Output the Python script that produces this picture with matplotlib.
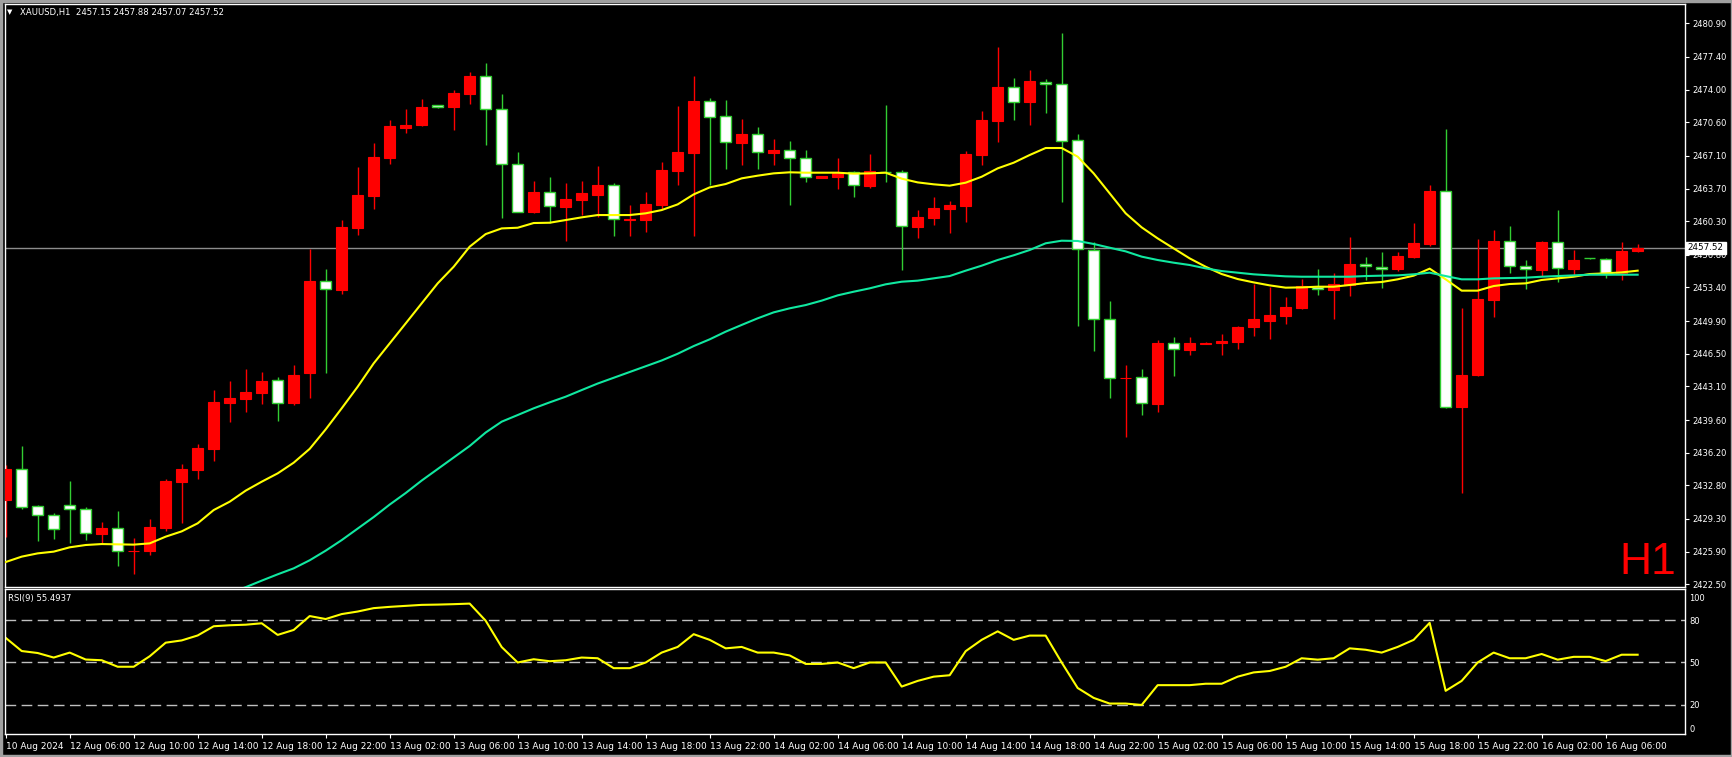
import numpy as np
import matplotlib
matplotlib.use("Agg")
import matplotlib.pyplot as plt
from matplotlib.patches import Rectangle

# XAUUSD H1 candles (bar 0 = leftmost)
opens = [2431.31, 2434.47, 2430.62, 2429.68, 2430.72, 2430.30, 2427.77, 2428.33, 2425.98, 2426.00,
         2428.39, 2433.18, 2434.43, 2436.62, 2441.41, 2441.82, 2442.45, 2443.73, 2441.41, 2444.46,
         2454.04, 2453.17, 2459.62, 2462.95, 2466.91, 2470.03, 2470.31, 2472.36, 2472.19, 2473.57,
         2475.41, 2471.94, 2466.22, 2461.25, 2463.30, 2461.81, 2462.54, 2463.06, 2464.03, 2460.45,
         2460.46, 2461.99, 2465.56, 2467.40, 2472.78, 2471.21, 2468.47, 2469.34, 2467.43, 2467.67,
         2466.84, 2464.83, 2464.93, 2465.39, 2464.00, 2465.45, 2465.38, 2459.73, 2460.66, 2461.60,
         2461.91, 2467.22, 2470.76, 2474.23, 2472.74, 2474.79, 2474.54, 2468.71, 2457.26, 2450.08,
         2443.94, 2444.04, 2441.30, 2447.58, 2446.92, 2447.55, 2447.61, 2447.76, 2449.28, 2449.91,
         2450.43, 2451.26, 2453.48, 2453.17, 2453.69, 2455.81, 2455.56, 2455.32, 2456.57, 2457.96,
         2463.41, 2440.99, 2444.28, 2452.13, 2458.20, 2455.60, 2455.25, 2458.10, 2455.32, 2456.45,
         2456.33, 2454.84, 2457.15]
highs = [2434.90, 2436.90, 2430.72, 2429.89, 2433.25, 2430.51, 2428.99, 2430.13, 2427.32, 2429.30,
         2433.46, 2435.02, 2437.10, 2442.73, 2443.66, 2444.91, 2444.60, 2444.08, 2445.29, 2457.40,
         2455.32, 2460.42, 2465.94, 2468.44, 2470.83, 2471.98, 2473.02, 2472.40, 2473.95, 2475.83,
         2476.80, 2473.54, 2467.50, 2464.48, 2464.90, 2464.27, 2464.48, 2466.05, 2464.28, 2461.99,
         2463.34, 2466.46, 2472.29, 2475.41, 2473.09, 2472.88, 2470.94, 2470.11, 2468.86, 2468.65,
         2467.71, 2465.05, 2466.88, 2465.50, 2467.29, 2472.39, 2465.62, 2461.43, 2462.81, 2462.40,
         2467.60, 2471.77, 2478.43, 2475.20, 2476.04, 2475.10, 2479.89, 2469.37, 2458.10, 2451.99,
         2445.32, 2444.91, 2447.93, 2448.24, 2448.24, 2447.72, 2448.55, 2449.39, 2453.76, 2453.48,
         2452.41, 2454.28, 2455.32, 2454.90, 2458.65, 2456.57, 2457.09, 2457.09, 2460.11, 2464.06,
         2469.89, 2451.26, 2458.44, 2459.38, 2459.80, 2456.26, 2458.20, 2461.46, 2457.30, 2456.50,
         2456.47, 2458.13, 2457.88]
lows = [2427.46, 2430.30, 2427.04, 2427.25, 2426.83, 2427.15, 2426.66, 2424.44, 2423.61, 2425.58,
        2428.08, 2428.91, 2433.50, 2435.37, 2439.43, 2440.47, 2441.30, 2439.53, 2441.20, 2441.93,
        2444.46, 2452.75, 2458.86, 2461.57, 2466.29, 2469.48, 2470.21, 2472.10, 2469.79, 2472.50,
        2468.23, 2460.66, 2461.29, 2461.15, 2460.14, 2458.24, 2460.94, 2460.70, 2458.79, 2458.79,
        2459.21, 2461.57, 2464.10, 2458.79, 2464.10, 2465.73, 2466.15, 2465.73, 2466.15, 2462.02,
        2464.41, 2464.78, 2463.69, 2462.85, 2463.79, 2464.41, 2455.25, 2458.58, 2459.93, 2459.10,
        2460.25, 2466.18, 2468.57, 2470.87, 2470.31, 2471.59, 2462.33, 2449.42, 2446.82, 2441.92,
        2437.86, 2440.15, 2440.47, 2444.21, 2446.40, 2447.51, 2446.40, 2447.02, 2448.34, 2448.03,
        2449.60, 2451.16, 2452.62, 2450.11, 2452.51, 2454.21, 2453.34, 2455.11, 2456.50, 2457.72,
        2440.89, 2432.03, 2444.20, 2450.36, 2454.94, 2453.27, 2454.63, 2454.00, 2454.70, 2456.40,
        2454.42, 2454.21, 2457.07]
closes = [2434.50, 2430.58, 2429.68, 2428.22, 2430.30, 2427.81, 2428.36, 2425.93, 2426.00, 2428.46,
          2433.25, 2434.50, 2436.69, 2441.48, 2441.89, 2442.52, 2443.66, 2441.41, 2444.29, 2454.07,
          2453.20, 2459.69, 2463.02, 2466.98, 2470.21, 2470.31, 2472.19, 2472.15, 2473.64, 2475.41,
          2471.94, 2466.22, 2461.29, 2463.34, 2461.84, 2462.61, 2463.23, 2464.03, 2460.49, 2460.50,
          2462.09, 2465.63, 2467.50, 2472.81, 2471.18, 2468.51, 2469.38, 2467.47, 2467.71, 2466.84,
          2464.90, 2465.00, 2465.28, 2464.03, 2465.52, 2465.40, 2459.76, 2460.73, 2461.67, 2461.95,
          2467.29, 2470.83, 2474.27, 2472.67, 2474.89, 2474.54, 2468.68, 2457.37, 2450.08, 2443.94,
          2444.01, 2441.33, 2447.61, 2446.96, 2447.58, 2447.60, 2447.82, 2449.28, 2450.11, 2450.53,
          2451.36, 2453.51, 2453.20, 2453.76, 2455.84, 2455.60, 2455.29, 2456.67, 2458.03, 2463.44,
          2440.99, 2444.28, 2452.19, 2458.24, 2455.60, 2455.29, 2458.13, 2455.39, 2456.26, 2456.43,
          2454.84, 2457.19, 2457.52]

# fast MA (yellow), read per bar
ma_fast = [2424.82, 2425.38, 2425.72, 2425.90, 2426.35, 2426.59, 2426.69, 2426.66, 2426.63, 2426.76,
           2427.46, 2428.01, 2428.85, 2430.23, 2431.10, 2432.25, 2433.18, 2434.05, 2435.16, 2436.60,
           2438.63, 2440.82, 2443.07, 2445.50, 2447.58, 2449.66, 2451.75, 2453.83, 2455.56, 2457.65,
           2458.96, 2459.55, 2459.62, 2460.11, 2460.14, 2460.42, 2460.70, 2460.94, 2460.94, 2460.94,
           2461.12, 2461.46, 2462.05, 2463.09, 2463.82, 2464.17, 2464.76, 2465.04, 2465.28, 2465.39,
           2465.35, 2465.35, 2465.35, 2465.25, 2465.28, 2465.35, 2464.73, 2464.34, 2464.14, 2464.00,
           2464.31, 2464.93, 2465.80, 2466.39, 2467.19, 2467.92, 2467.92, 2467.02, 2465.28, 2463.20,
           2461.12, 2459.66, 2458.51, 2457.47, 2456.43, 2455.56, 2454.80, 2454.28, 2453.93, 2453.62,
           2453.38, 2453.41, 2453.48, 2453.48, 2453.66, 2453.86, 2453.97, 2454.25, 2454.63, 2455.36,
           2454.25, 2453.07, 2453.07, 2453.55, 2453.76, 2453.83, 2454.18, 2454.35, 2454.52, 2454.80,
           2454.87, 2454.97, 2455.15]

# slow MA (green), starts at bar 14 (below the panel before that)
ma_slow_start = 14
ma_slow = [2421.60, 2422.20, 2422.88, 2423.54, 2424.16, 2425.00,
           2426.00, 2427.10, 2428.30, 2429.50, 2430.80, 2432.00, 2433.30, 2434.50, 2435.70, 2436.90,
           2438.30, 2439.43, 2440.12, 2440.82, 2441.44, 2442.03, 2442.72, 2443.40, 2444.00, 2444.60,
           2445.20, 2445.80, 2446.50, 2447.30, 2448.00, 2448.80, 2449.50, 2450.19, 2450.81, 2451.23,
           2451.57, 2452.03, 2452.58, 2452.96, 2453.31, 2453.73, 2454.00, 2454.11, 2454.35, 2454.59,
           2455.15, 2455.67, 2456.26, 2456.75, 2457.30, 2458.00, 2458.27, 2458.24, 2457.93, 2457.54,
           2457.16, 2456.61, 2456.26, 2455.98, 2455.74, 2455.39, 2455.11, 2454.94, 2454.77, 2454.66,
           2454.56, 2454.52, 2454.52, 2454.52, 2454.52, 2454.59, 2454.63, 2454.66, 2454.77, 2454.94,
           2454.59, 2454.25, 2454.25, 2454.35, 2454.38, 2454.42, 2454.52, 2454.59, 2454.66, 2454.73,
           2454.73, 2454.73, 2454.73]

rsi = [67.4, 58.1, 56.7, 53.5, 57.0, 52.1, 51.6, 47.0, 47.0, 54.4,
       64.0, 65.6, 69.1, 75.6, 76.3, 76.7, 77.7, 69.5, 73.0, 82.8,
       80.7, 84.2, 86.0, 88.4, 89.3, 90.0, 90.7, 90.9, 91.2, 91.6,
       79.5, 60.9, 50.0, 52.3, 50.9, 51.6, 53.5, 53.0, 46.0, 46.0,
       50.0, 57.0, 61.0, 70.0, 66.0, 60.0, 61.0, 57.0, 57.0, 55.0,
       49.0, 49.0, 50.0, 46.0, 50.0, 50.0, 33.0, 37.0, 40.0, 41.0,
       58.0, 66.0, 72.0, 66.0, 69.0, 69.0, 50.0, 32.0, 25.0, 21.0,
       21.0, 20.0, 34.0, 34.0, 34.0, 35.0, 35.0, 40.0, 43.0, 44.0,
       47.0, 53.0, 52.0, 53.0, 60.0, 59.0, 57.0, 61.0, 66.0, 78.0,
       30.0, 37.0, 50.0, 57.0, 53.0, 53.0, 56.0, 52.0, 54.0, 54.0,
       51.0, 55.5, 55.49]
rsi_levels = [80, 50, 20]

price_ticks = [2480.90, 2477.40, 2474.00, 2470.60, 2467.10, 2463.70, 2460.30, 2456.80, 2453.40,
               2449.90, 2446.50, 2443.10, 2439.60, 2436.20, 2432.80, 2429.30, 2425.90, 2422.50]
time_tick_pos = list(range(0, 101, 4))
time_tick_labels = ["10 Aug 2024", "12 Aug 06:00", "12 Aug 10:00", "12 Aug 14:00", "12 Aug 18:00",
                    "12 Aug 22:00", "13 Aug 02:00", "13 Aug 06:00", "13 Aug 10:00", "13 Aug 14:00",
                    "13 Aug 18:00", "13 Aug 22:00", "14 Aug 02:00", "14 Aug 06:00", "14 Aug 10:00",
                    "14 Aug 14:00", "14 Aug 18:00", "14 Aug 22:00", "15 Aug 02:00", "15 Aug 06:00",
                    "15 Aug 10:00", "15 Aug 14:00", "15 Aug 18:00", "15 Aug 22:00", "16 Aug 02:00",
                    "16 Aug 06:00"]
last_price = 2457.52
header = "XAUUSD,H1  2457.15 2457.88 2457.07 2457.52"
rsi_title = "RSI(9) 55.4937"

W, H = 1733, 757
fig = plt.figure(figsize=(W / 100, H / 100), dpi=100, facecolor="black")

def fx(px):
    return px / W

def fy(py):
    return 1 - py / H

ax = fig.add_axes([fx(4.5), fy(586.7), fx(1685) - fx(4.5), fy(4.3) - fy(586.7)])
ax2 = fig.add_axes([fx(4.5), fy(734), fx(1685) - fx(4.5), fy(589.3) - fy(734)])

for a in (ax, ax2):
    a.set_facecolor("black")
    for s in a.spines.values():
        s.set_color("white")
        s.set_linewidth(1)
    a.set_xlim(-0.075, 104.96)

o = np.array(opens)
h = np.array(highs)
l = np.array(lows)
c = np.array(closes)
x = np.arange(len(o))
up = c >= o
dn = ~up

bull = "#ff0000"
bear_edge = "#32cd32"

ax.axhline(last_price, color="#8c8c8c", lw=1, zorder=1)
ax.vlines(x[up], l[up], h[up], color=bull, lw=1, zorder=2)
ax.vlines(x[dn], l[dn], h[dn], color=bear_edge, lw=1, zorder=2)
ax.bar(x[up], c[up] - o[up], bottom=o[up], width=0.68, color=bull, edgecolor=bull, lw=0.8, zorder=3)
ax.bar(x[dn], o[dn] - c[dn], bottom=c[dn], width=0.68, facecolor="white", edgecolor=bear_edge,
       lw=1, zorder=3)

ax.plot(x, ma_fast, color="#ffff00", lw=1.5, zorder=4)
xs = np.arange(ma_slow_start, ma_slow_start + len(ma_slow))
ax.plot(xs, ma_slow, color="#10e8a0", lw=1.5, zorder=4)

ax.set_ylim(2422.25, 2482.88)
ax.yaxis.tick_right()
ax.set_yticks(price_ticks)
ax.set_yticklabels(["%.2f" % v for v in price_ticks])
ax.tick_params(axis="y", colors="white", labelsize=6.0, length=3, pad=2)
ax.set_xticks([])

ax.annotate("%.2f" % last_price, xy=(1, last_price), xycoords=("axes fraction", "data"),
            xytext=(2.0, 0), textcoords="offset points", ha="left", va="center",
            fontsize=6.3, color="black",
            bbox=dict(boxstyle="square,pad=0.2", fc="white", ec="white"))

# RSI panel
ax2.set_ylim(-0.5, 101.7)
for lv in rsi_levels:
    ax2.axhline(lv, color="#c0c0c0", lw=1, linestyle=(0, (7.7, 3.9)), zorder=1)
ax2.plot(x, rsi, color="#ffff00", lw=1.5, zorder=2)
ax2.yaxis.tick_right()
ax2.set_yticks([96.2, 80, 50, 20, 3.7])
ax2.set_yticklabels(["100", "80", "50", "20", "0"])
ax2.tick_params(axis="y", colors="white", labelsize=6.0, length=0, pad=3)
ax2.set_xticks(time_tick_pos)
ax2.set_xticklabels(time_tick_labels)
ax2.tick_params(axis="x", colors="white", labelsize=6.5, length=3, pad=3, direction="out")
for t in ax2.get_xticklabels():
    t.set_ha("left")

# texts
fig.text(fx(7), fy(12), "\u25bc", color="white", fontsize=5, va="center", ha="left")
fig.text(fx(20), fy(12.5), header, color="white", fontsize=6.1, va="center", ha="left")
fig.text(fx(8), fy(599), rsi_title, color="white", fontsize=6.1, va="center", ha="left")
fig.text(fx(1676), fy(574), "H1", color="#ff0000", fontsize=32, family="Liberation Sans",
         ha="right", va="baseline")

# grey window frame
fig.patches.append(Rectangle((0, 0), 1, 1, transform=fig.transFigure, fill=False,
                             ec="#a0a0a0", lw=3.9, zorder=10))

fig.savefig("out.png", dpi=100, facecolor="black")
